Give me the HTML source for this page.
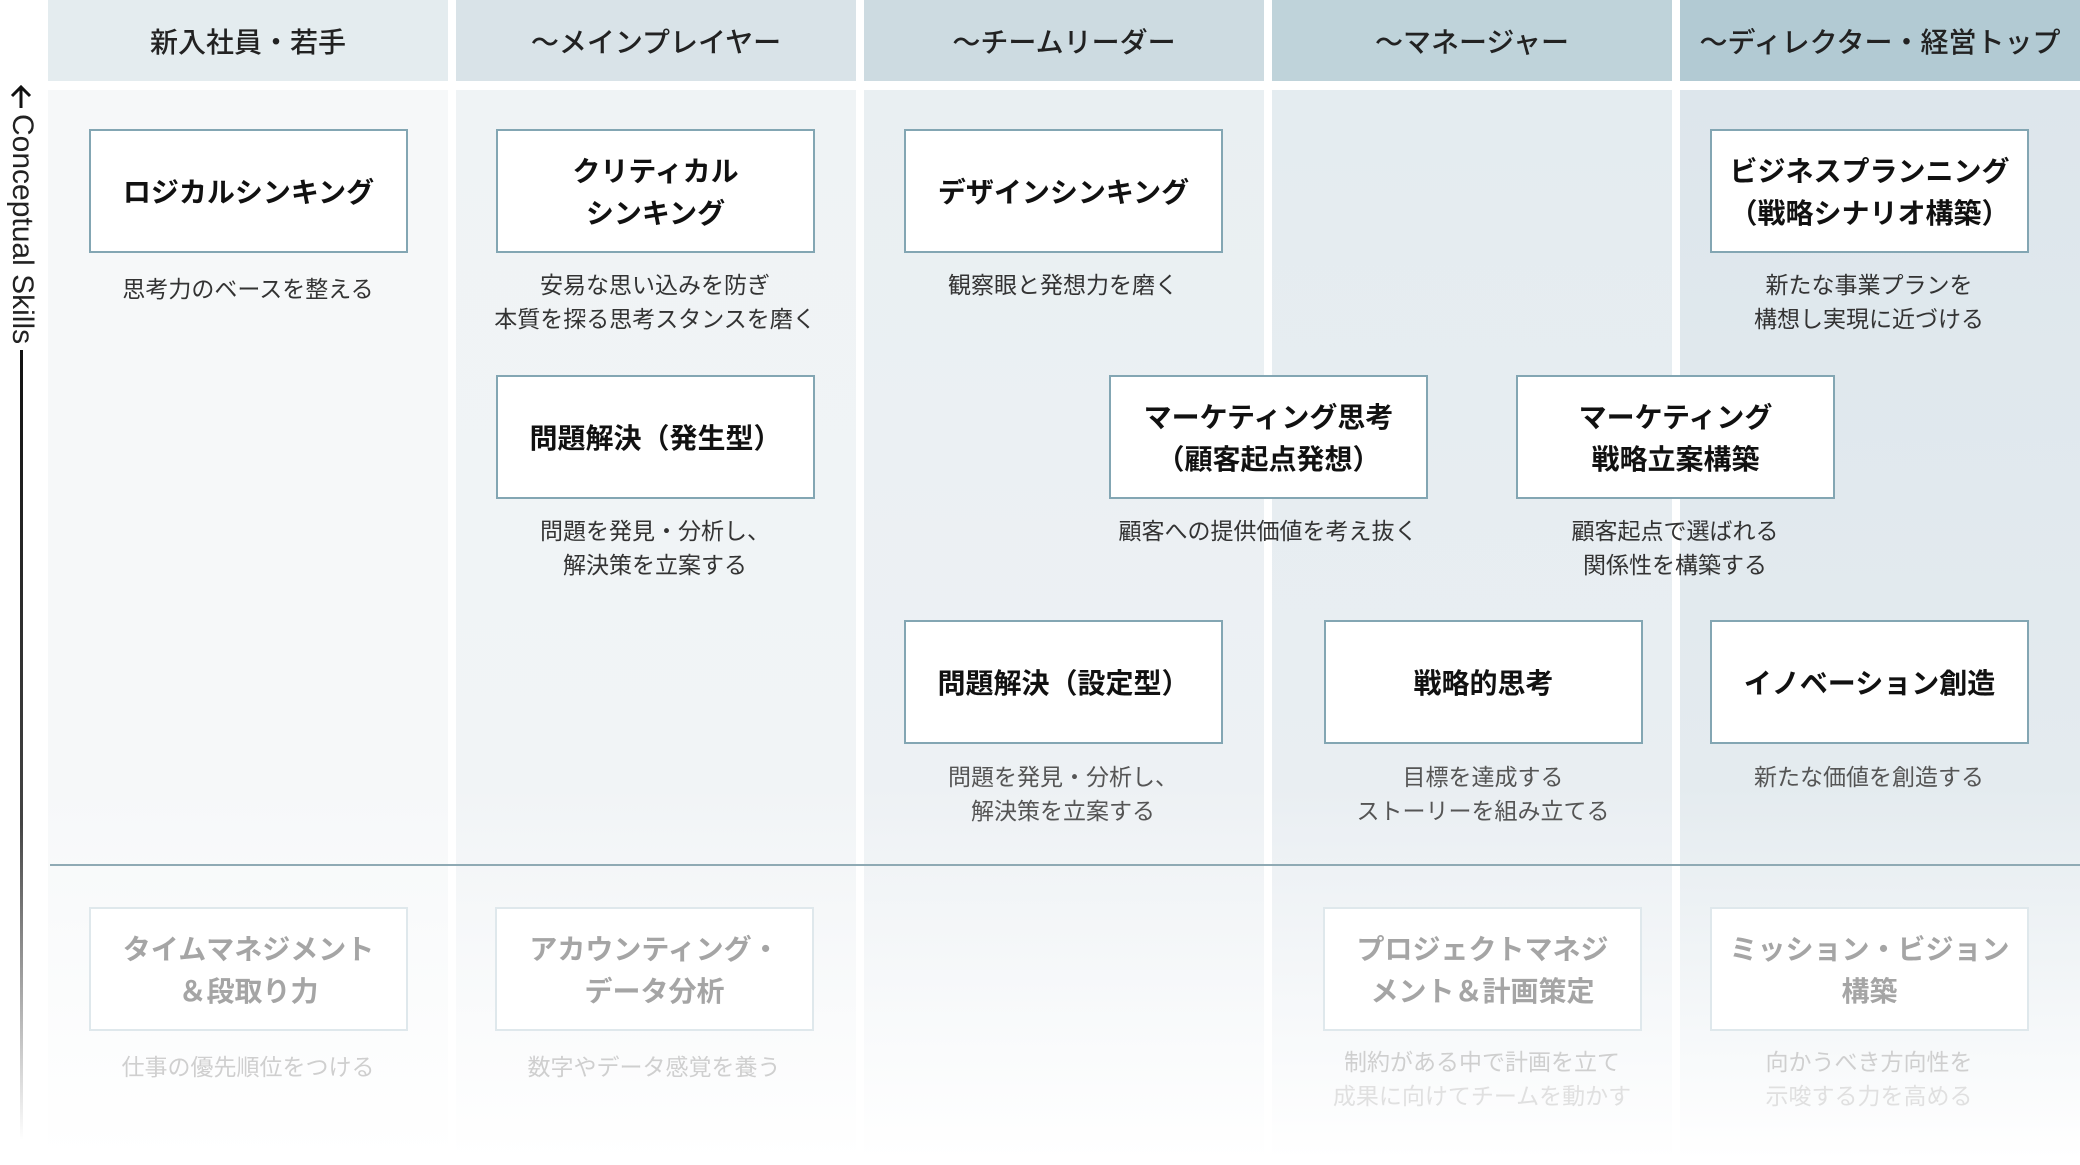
<!DOCTYPE html>
<html><head><meta charset="utf-8"><style>
*{margin:0;padding:0;box-sizing:border-box}
body{width:2080px;height:1165px;background:#fff;position:relative;overflow:hidden;font-family:"Liberation Sans","Noto Sans CJK JP",sans-serif;color:#222}
.h{position:absolute;top:0;height:81px;width:400px;display:flex;align-items:center;justify-content:center;font-size:28px;font-weight:500;color:#222}
.c{position:absolute;top:90px;height:1070px;width:400px}
.b{position:absolute;width:319px;height:124px;border:2px solid #83a6b3;background:#fff;display:flex;align-items:center;justify-content:center;text-align:center;font-weight:700;font-size:28px;line-height:42px;padding-top:3px;color:#111}
.f{border-color:#dfe8ec;color:#a5a5a5}
.d{position:absolute;width:420px;text-align:center;font-size:23px;line-height:34px;color:#333}
.fd{color:#cfcfcf}
</style></head><body>
<div class="h" style="left:48px;background:#e4ecef">新入社員・若手</div>
<div class="h" style="left:456px;background:#d9e3e8">～メインプレイヤー</div>
<div class="h" style="left:864px;background:#cddbe1">～チームリーダー</div>
<div class="h" style="left:1272px;background:#bfd3da">～マネージャー</div>
<div class="h" style="left:1680px;background:#b2cad3">～ディレクター・経営トップ</div>

<div class="c" style="left:48px;background:linear-gradient(#f6f8f9 0%,#f6f8f9 65%,#fff 100%)"></div>
<div class="c" style="left:456px;background:linear-gradient(#eff3f5 0%,#f1f4f6 65%,#fff 100%)"></div>
<div class="c" style="left:864px;background:linear-gradient(#e9eff2 0%,#edf1f4 65%,#fff 100%)"></div>
<div class="c" style="left:1272px;background:linear-gradient(#e4ecf0 0%,#e9eef2 65%,#fff 100%)"></div>
<div class="c" style="left:1680px;background:linear-gradient(#dde6ec 0%,#e4ebef 65%,#fff 100%)"></div>

<div style="position:absolute;left:50px;top:864px;width:2030px;height:2px;background:#8faab4"></div>

<svg style="position:absolute;left:8px;top:84px" width="26" height="26" viewBox="0 0 26 26"><path d="M13 24 V4 M4 12 L13 3 L22 12" fill="none" stroke="#111" stroke-width="3"/></svg>
<div style="position:absolute;left:5px;top:114px;writing-mode:vertical-rl;font-size:30px;color:#222;width:34px;line-height:34px">Conceptual Skills</div>
<div style="position:absolute;left:20px;top:350px;width:2.5px;height:790px;background:linear-gradient(#111 0%,#444 60%,rgba(0,0,0,0) 100%)"></div>

<div class="b" style="left:89px;top:129px">ロジカルシンキング</div>
<div class="d" style="left:38px;top:272px">思考力のベースを整える</div>
<div class="b" style="left:496px;top:129px">クリティカル<br>シンキング</div>
<div class="d" style="left:445px;top:268px">安易な思い込みを防ぎ<br>本質を探る思考スタンスを磨く</div>
<div class="b" style="left:904px;top:129px">デザインシンキング</div>
<div class="d" style="left:853px;top:268px">観察眼と発想力を磨く</div>
<div class="b" style="left:1710px;top:129px">ビジネスプランニング<br>（戦略シナリオ構築）</div>
<div class="d" style="left:1659px;top:268px">新たな事業プランを<br>構想し実現に近づける</div>

<div class="b" style="left:496px;top:375px">問題解決（発生型）</div>
<div class="d" style="left:445px;top:514px">問題を発見・分析し、<br>解決策を立案する</div>
<div class="b" style="left:1109px;top:375px">マーケティング思考<br>（顧客起点発想）</div>
<div class="d" style="left:1058px;top:514px">顧客への提供価値を考え抜く</div>
<div class="b" style="left:1516px;top:375px">マーケティング<br>戦略立案構築</div>
<div class="d" style="left:1465px;top:514px">顧客起点で選ばれる<br>関係性を構築する</div>

<div class="b" style="left:904px;top:620px">問題解決（設定型）</div>
<div class="d" style="left:853px;top:760px;color:#555">問題を発見・分析し、<br>解決策を立案する</div>
<div class="b" style="left:1324px;top:620px">戦略的思考</div>
<div class="d" style="left:1273px;top:760px;color:#555">目標を達成する<br>ストーリーを組み立てる</div>
<div class="b" style="left:1710px;top:620px">イノベーション創造</div>
<div class="d" style="left:1659px;top:760px;color:#555">新たな価値を創造する</div>

<div class="b f" style="left:89px;top:907px">タイムマネジメント<br>＆段取り力</div>
<div class="d fd" style="left:38px;top:1050px">仕事の優先順位をつける</div>
<div class="b f" style="left:495px;top:907px">アカウンティング・<br>データ分析</div>
<div class="d fd" style="left:444px;top:1050px">数字やデータ感覚を養う</div>
<div class="b f" style="left:1323px;top:907px">プロジェクトマネジ<br>メント＆計画策定</div>
<div class="d fd" style="left:1272px;top:1045px">制約がある中で計画を立て<br><span style="color:#e0e0e0">成果に向けてチームを動かす</span></div>
<div class="b f" style="left:1710px;top:907px">ミッション・ビジョン<br>構築</div>
<div class="d fd" style="left:1659px;top:1045px">向かうべき方向性を<br><span style="color:#e0e0e0">示唆する力を高める</span></div>
</body></html>
